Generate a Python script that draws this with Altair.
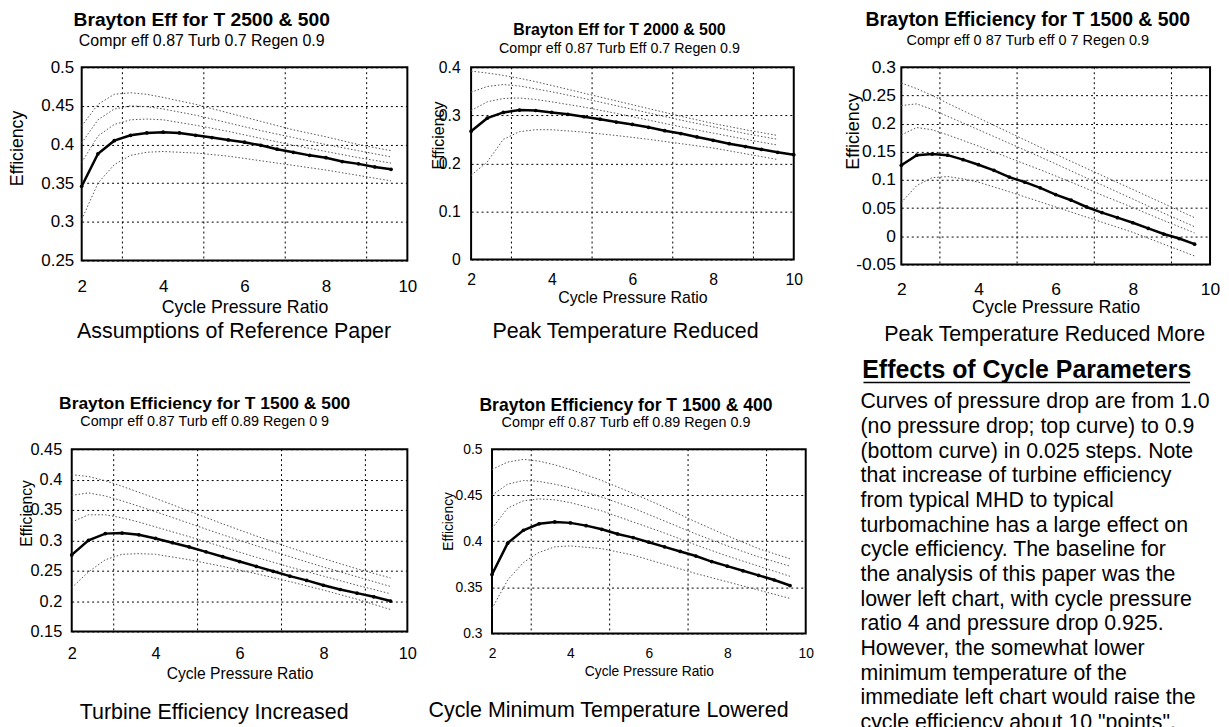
import altair as alt
import pandas as pd

FONT = "Liberation Sans"

# ---------------- data ----------------
X_DOT = [2.0, 2.4, 2.8, 3.2, 3.6, 4.0, 4.8, 5.6, 6.4, 7.2, 8.0, 8.8, 9.6]
X_BOLD = [2.0, 2.4, 2.8, 3.2, 3.6, 4.0, 4.4, 4.8, 5.2, 5.6, 6.0, 6.4, 6.8, 7.2, 7.6, 8.0, 8.4, 8.8, 9.2, 9.6]
X_BOLD_P2 = [2.0, 2.4, 2.8, 3.2, 3.6, 4.0, 4.4, 4.8, 5.2, 5.6, 6.0, 6.4, 6.8, 7.2, 7.6, 8.0, 8.4, 8.8, 9.2, 9.6, 10.0]
VGRID = [3, 5, 7, 9]
X_TICKS = [2, 4, 6, 8, 10]
DOTTED_NAMES = ["1.0", "0.975", "0.95", "0.9"]

P1_DOTTED = [
    [0.424, 0.452, 0.465, 0.467, 0.465, 0.461, 0.452, 0.441, 0.430, 0.419, 0.410, 0.400, 0.392],
    [0.402, 0.432, 0.446, 0.450, 0.449, 0.446, 0.438, 0.428, 0.418, 0.409, 0.400, 0.392, 0.384],
    [0.377, 0.411, 0.426, 0.432, 0.433, 0.432, 0.425, 0.417, 0.408, 0.399, 0.391, 0.383, 0.376],
    [0.303, 0.350, 0.374, 0.386, 0.390, 0.391, 0.389, 0.385, 0.379, 0.373, 0.367, 0.360, 0.353],
]
P1_BOLD = [0.346, 0.388, 0.405, 0.412, 0.415, 0.416, 0.415, 0.412, 0.409, 0.406,
           0.403, 0.399, 0.394, 0.390, 0.386, 0.383, 0.378, 0.375, 0.371, 0.368]

P2_DOTTED = [
    [0.392, 0.388, 0.383, 0.377, 0.370, 0.362, 0.346, 0.330, 0.314, 0.298, 0.283, 0.270, 0.258],
    [0.348, 0.360, 0.364, 0.361, 0.355, 0.349, 0.335, 0.320, 0.305, 0.290, 0.276, 0.262, 0.250],
    [0.310, 0.328, 0.335, 0.336, 0.333, 0.328, 0.317, 0.304, 0.290, 0.276, 0.263, 0.250, 0.238],
    [0.175, 0.203, 0.250, 0.266, 0.270, 0.270, 0.265, 0.258, 0.250, 0.241, 0.232, 0.220, 0.208],
]
P2_BOLD = [0.267, 0.294, 0.306, 0.311, 0.310, 0.306, 0.302, 0.297, 0.292, 0.286, 0.281,
           0.275, 0.268, 0.262, 0.255, 0.248, 0.241, 0.235, 0.229, 0.223, 0.218]

P3_DOTTED = [
    [0.272, 0.262, 0.250, 0.236, 0.223, 0.210, 0.184, 0.158, 0.133, 0.108, 0.083, 0.058, 0.033],
    [0.232, 0.235, 0.225, 0.213, 0.201, 0.189, 0.165, 0.141, 0.116, 0.091, 0.066, 0.041, 0.017],
    [0.180, 0.193, 0.189, 0.180, 0.170, 0.160, 0.139, 0.118, 0.096, 0.073, 0.051, 0.028, 0.006],
    [0.060, 0.090, 0.104, 0.106, 0.102, 0.096, 0.079, 0.061, 0.043, 0.025, 0.007, -0.014, -0.035],
]
P3_BOLD = [0.126, 0.144, 0.146, 0.144, 0.136, 0.127, 0.117, 0.105, 0.096, 0.086,
           0.074, 0.064, 0.052, 0.042, 0.033, 0.024, 0.014, 0.004, -0.004, -0.014]

P4_DOTTED = [
    [0.408, 0.405, 0.398, 0.389, 0.379, 0.369, 0.348, 0.327, 0.307, 0.288, 0.270, 0.253, 0.238],
    [0.374, 0.378, 0.373, 0.365, 0.356, 0.347, 0.328, 0.309, 0.291, 0.273, 0.256, 0.240, 0.224],
    [0.330, 0.342, 0.342, 0.337, 0.330, 0.322, 0.306, 0.289, 0.272, 0.256, 0.241, 0.226, 0.212],
    [0.222, 0.248, 0.268, 0.277, 0.278, 0.277, 0.268, 0.257, 0.245, 0.232, 0.218, 0.203, 0.186],
]
P4_BOLD = [0.276, 0.300, 0.311, 0.312, 0.309, 0.303, 0.296, 0.289, 0.281, 0.273,
           0.265, 0.257, 0.249, 0.241, 0.234, 0.226, 0.219, 0.213, 0.207, 0.200]

P5_DOTTED = [
    [0.478, 0.486, 0.489, 0.487, 0.483, 0.478, 0.466, 0.452, 0.437, 0.421, 0.406, 0.392, 0.381],
    [0.450, 0.462, 0.466, 0.465, 0.462, 0.458, 0.448, 0.436, 0.422, 0.408, 0.395, 0.383, 0.373],
    [0.414, 0.436, 0.444, 0.446, 0.445, 0.442, 0.433, 0.421, 0.409, 0.396, 0.384, 0.373, 0.362],
    [0.327, 0.358, 0.377, 0.388, 0.394, 0.395, 0.392, 0.385, 0.375, 0.365, 0.356, 0.347, 0.338],
]
P5_BOLD = [0.364, 0.398, 0.412, 0.419, 0.421, 0.420, 0.417, 0.413, 0.408, 0.404,
           0.399, 0.394, 0.389, 0.384, 0.378, 0.373, 0.368, 0.363, 0.358, 0.352]

P1_YTICKS = [0.25, 0.3, 0.35, 0.4, 0.45, 0.5]
P2_YTICKS = [0, 0.1, 0.2, 0.3, 0.4]
P3_YTICKS = [-0.05, 0, 0.05, 0.1, 0.15, 0.2, 0.25, 0.3]
P4_YTICKS = [0.15, 0.2, 0.25, 0.3, 0.35, 0.4, 0.45]
P5_YTICKS = [0.3, 0.35, 0.4, 0.45, 0.5]

TITLES = [
    "Brayton Eff for T 2500 & 500",
    "Brayton Eff for T 2000 & 500",
    "Brayton Efficiency for T 1500 & 500",
    "Brayton Efficiency for T 1500 & 500",
    "Brayton Efficiency for T 1500 & 400",
]
SUBTITLES = [
    "Compr eff 0.87 Turb 0.7 Regen 0.9",
    "Compr eff 0.87 Turb Eff 0.7 Regen 0.9",
    "Compr eff 0 87 Turb eff 0 7 Regen 0.9",
    "Compr eff 0.87 Turb eff 0.89 Regen 0 9",
    "Compr eff 0.87 Turb eff 0.89 Regen 0.9",
]
CAPTIONS = [
    "Assumptions of Reference Paper",
    "Peak Temperature Reduced",
    "Peak Temperature Reduced More",
    "Turbine Efficiency Increased",
    "Cycle Minimum Temperature Lowered",
]
HEADING = "Effects of Cycle Parameters"
TEXT_LINES = [
    "Curves of pressure drop are from 1.0",
    "(no pressure drop; top curve) to 0.9",
    "(bottom curve) in 0.025 steps.  Note",
    "that increase of turbine efficiency",
    "from typical MHD to typical",
    "turbomachine has a large effect on",
    "cycle efficiency.  The baseline for",
    "the analysis of this paper was the",
    "lower left chart, with cycle pressure",
    "ratio 4 and pressure drop 0.925.",
    "However, the somewhat lower",
    "minimum temperature of the",
    "immediate left chart would raise the",
    "cycle efficiency about 10 \"points\".",
]

# ---------------- layout / style (not data) ----------------
STYLES = [
    dict(w=327, h=194, ydom=[0.25, 0.5], tfs=19.3, sfs=16, dx=-43, off=9.5, sp=2.3,
         lab=17, ttl=17.8, xlp=18.5, xty=47, ylp=8, ytx=-64, yty=81, cx=153, cy=266),
    dict(w=324, h=193, ydom=[0, 0.4], tfs=16, sfs=14.3, dx=-13, off=3, sp=3.8,
         lab=15.8, ttl=16, xlp=13, xty=38, ylp=11, ytx=-33, yty=68, cx=155, cy=266),
    dict(w=310, h=198, ydom=[-0.05, 0.3], tfs=19.5, sfs=14.5, dx=-28, off=10, sp=3,
         lab=17.5, ttl=18, xlp=16, xty=43, ylp=6, ytx=-48, yty=64, cx=144, cy=269),
    dict(w=337, h=183, ydom=[0.15, 0.45], tfs=17.5, sfs=14.4, dx=-35, off=13, sp=2,
         lab=16.4, ttl=15.7, xlp=14, xty=42, ylp=10, ytx=-45, yty=64, cx=143, cy=265),
    dict(w=315, h=185, ydom=[0.3, 0.5], tfs=17.6, sfs=14.4, dx=-23, off=13.3, sp=1,
         lab=13.9, ttl=13.8, xlp=13, xty=38, ylp=10, ytx=-44, yty=72, cx=117, cy=263),
]
CAPTION_FS = 21.5


def make_panel(k, dotted, bold_x, bold_y, yticks):
    st = STYLES[k]
    rows = []
    for name, vals in zip(DOTTED_NAMES, dotted):
        for xv, yv in zip(X_DOT, vals):
            rows.append({"x": xv, "y": yv, "curve": name})
    dot_df = pd.DataFrame(rows)
    bold_df = pd.DataFrame({"x": bold_x, "y": bold_y})
    grid_df = pd.DataFrame({"x": VGRID})
    cap_df = pd.DataFrame({"t": [CAPTIONS[k]]})

    xs = alt.Scale(domain=[2, 10], nice=False, zero=False)
    ys = alt.Scale(domain=st["ydom"], nice=False, zero=False)
    xaxis = alt.Axis(values=X_TICKS, grid=False, domain=False, ticks=False,
                     labelFont=FONT, labelFontSize=st["lab"], labelColor="black",
                     labelPadding=st["xlp"], labelFlush=False, labelOverlap=False,
                     title="Cycle Pressure Ratio", titleFont=FONT, titleFontSize=st["ttl"],
                     titleFontWeight="normal", titleColor="black", titleY=st["xty"],
                     titleBaseline="middle")
    yaxis = alt.Axis(values=yticks, grid=True, gridColor="black", gridDash=[2, 3],
                     gridWidth=1, domain=False, ticks=False,
                     labelFont=FONT, labelFontSize=st["lab"], labelColor="black",
                     labelPadding=st["ylp"], labelOverlap=False, labelFlush=False,
                     labelExpr="'' + round(datum.value*1000)/1000",
                     title="Efficiency", titleFont=FONT, titleFontSize=st["ttl"],
                     titleFontWeight="normal", titleColor="black",
                     titleX=st["ytx"], titleY=st["yty"], titleBaseline="middle",
                     titleAngle=270)
    X = alt.X("x:Q", scale=xs, axis=xaxis)
    Y = alt.Y("y:Q", scale=ys, axis=yaxis)

    grid = alt.Chart(grid_df).mark_rule(color="black", strokeDash=[2, 3], strokeWidth=1).encode(x=X)
    dots = alt.Chart(dot_df).mark_line(color="#555555", strokeWidth=1, strokeDash=[1.5, 2]).encode(
        x=X, y=Y, detail="curve:N")
    bold = alt.Chart(bold_df).mark_line(
        color="black", strokeWidth=2.5,
        point=alt.OverlayMarkDef(filled=True, size=14, color="black")).encode(x=X, y=Y)
    cap = alt.Chart(cap_df).mark_text(font=FONT, fontSize=CAPTION_FS, color="black", align="center",
                                      baseline="middle").encode(
        text="t:N", x=alt.value(st["cx"]), y=alt.value(st["cy"]))

    return alt.layer(grid, dots, bold, cap).properties(
        width=st["w"], height=st["h"],
        title=alt.TitleParams(text=TITLES[k], subtitle=SUBTITLES[k], font=FONT,
                              fontSize=st["tfs"], fontWeight="bold", color="black",
                              subtitleFont=FONT, subtitleFontSize=st["sfs"],
                              subtitleColor="black", anchor="middle", frame="group",
                              dx=st["dx"], offset=st["off"], subtitlePadding=st["sp"]),
        view=alt.ViewBackground(stroke="black", strokeWidth=2),
    )


def spacer(w):
    return alt.Chart(pd.DataFrame({"s": [0]})).mark_point(opacity=0).encode(
        x=alt.X("s:Q", axis=None), y=alt.Y("s:Q", axis=None)
    ).properties(width=w, height=1, view=alt.ViewBackground(strokeOpacity=0))


p1 = make_panel(0, P1_DOTTED, X_BOLD, P1_BOLD, P1_YTICKS)
p2 = make_panel(1, P2_DOTTED, X_BOLD_P2, P2_BOLD, P2_YTICKS)
p3 = make_panel(2, P3_DOTTED, X_BOLD, P3_BOLD, P3_YTICKS)
p4 = make_panel(3, P4_DOTTED, X_BOLD, P4_BOLD, P4_YTICKS)
p5 = make_panel(4, P5_DOTTED, X_BOLD, P5_BOLD, P5_YTICKS)

text_df = pd.DataFrame({"i": list(range(len(TEXT_LINES))), "t": TEXT_LINES})
head_df = pd.DataFrame({"t": [HEADING]})
body = alt.Chart(text_df).mark_text(font=FONT, fontSize=21.4, color="black", align="left",
                                    baseline="middle").encode(
    x=alt.value(0),
    y=alt.Y("i:Q", scale=alt.Scale(domain=[0, 13], range=[-47, 275]), axis=None),
    text="t:N")
heading = alt.Chart(head_df).mark_text(font=FONT, fontSize=25, fontWeight="bold", color="black",
                                       align="center", baseline="middle").encode(
    text="t:N", x=alt.value(167), y=alt.value(-79))
underline = alt.Chart(head_df).mark_rule(color="black", strokeWidth=1.5).encode(
    x=alt.value(3), x2=alt.value(331), y=alt.value(-67))
text_panel = alt.layer(body, heading, underline).properties(
    width=350, height=185, view=alt.ViewBackground(strokeOpacity=0))

row1 = alt.hconcat(spacer(10), p1, spacer(64), p2, spacer(108), p3, spacing=0, bounds="flush")
row2 = alt.hconcat(p4, spacer(85), p5, spacer(55), text_panel, spacing=0, bounds="flush")

chart = alt.vconcat(row1, row2, spacing=11.5).properties(padding=0).configure(font=FONT)

chart.save("out.html", embed_options={"renderer": "svg", "actions": False})
